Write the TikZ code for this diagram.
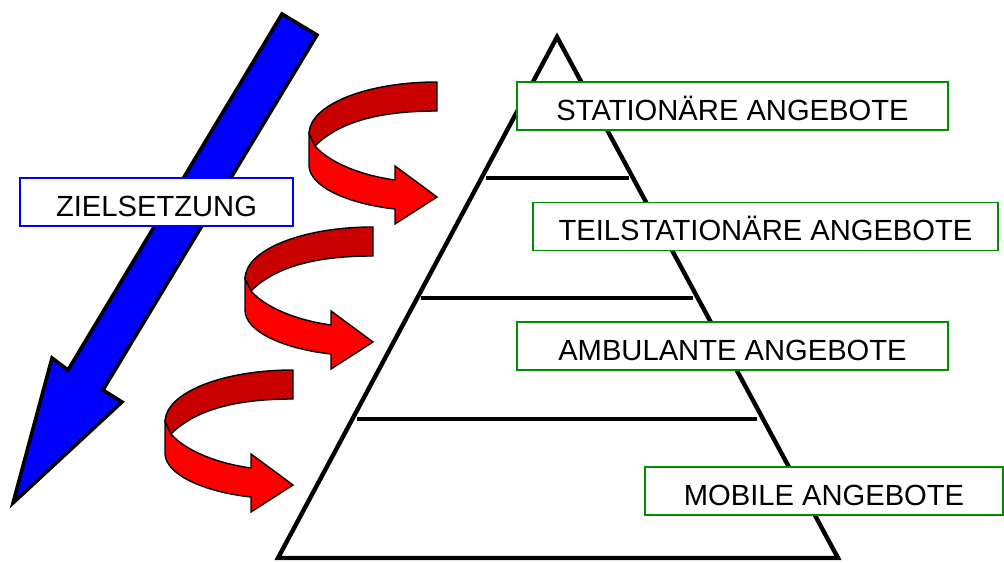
\documentclass[tikz,border=0pt]{standalone}
\usepackage{fontspec}
\setmainfont{Liberation Sans}

\definecolor{backred}{RGB}{200,0,0}
\definecolor{frontred}{RGB}{255,0,0}
\definecolor{boxgreen}{RGB}{0,140,0}

\tikzset{
  angebot/.style={draw=boxgreen, line width=1.1pt, fill=white, inner sep=0pt,
    minimum height=0.96cm, text height=16pt, text depth=0pt,
    font=\fontsize{16.6}{18}\selectfont},
  zielbox/.style={angebot, draw=blue, line width=0.9pt},
  stufe/.style={line width=2.5pt},
}

\begin{document}
\begin{tikzpicture}[x=0.02cm,y=-0.02cm]
\useasboundingbox (0,0) rectangle (1004,563);
% Zielsetzung
\draw[line width=2pt, fill=blue, line join=miter]
  (282,14) -- (317,35) -- (103,390) -- (122,402) -- (13,503) -- (52,358) -- (68,370) -- cycle;
\node[zielbox, minimum width=5.46cm] (ziel) at (156.5,202) {ZIELSETZUNG};
% Schleifen
\foreach \dx/\dy in {309/82, 245/227, 165/370}{
  \begin{scope}[shift={(\dx,\dy)}, line width=0.8pt, line join=miter]
	\draw[fill=backred] (128,0) .. controls (57,0) and (0,23) .. (0,52) -- (6,64)
	  .. controls (30,40) and (70,29) .. (128,29) -- cycle;
	\draw[fill=frontred] (0,52) -- (6,64) .. controls (20,80) and (50,93) .. (86,98)
	  -- (86,84) -- (128,115) -- (86,142) -- (86,127)
	  .. controls (40,122) and (0,105) .. (0,83) -- cycle;
  \end{scope}
}
% Pyramide
\draw[stufe, line join=miter] (557,37) coordinate (spitze) -- (838,558) coordinate (rechts)
  -- (278,558) coordinate (links) -- cycle;
\draw[stufe] (486,178) -- (629,178);
\draw[stufe] (421,298) -- (693,298);
\draw[stufe] (357,419) -- (757,419);
\node[angebot, minimum width=8.62cm] (stationaer) at (732.5,106) {STATIONÄRE ANGEBOTE};
\node[angebot, minimum width=9.3cm] (teilstationaer) at (765.5,226.5) {TEILSTATIONÄRE ANGEBOTE};
\node[angebot, minimum width=8.62cm] (ambulant) at (732.5,346) {AMBULANTE ANGEBOTE};
\node[angebot, minimum width=7.16cm] (mobil) at (824,491) {MOBILE ANGEBOTE};
\end{tikzpicture}
\end{document}
